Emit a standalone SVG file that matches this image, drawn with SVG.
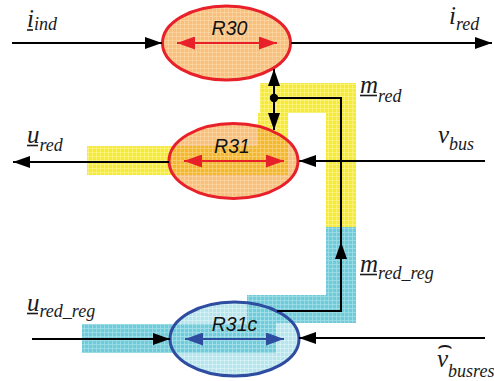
<svg xmlns="http://www.w3.org/2000/svg" width="494" height="381" viewBox="0 0 494 381">
<style>
.ln{fill:none;stroke:#000;stroke-width:2}
.lbl{font-family:"Liberation Serif",serif;font-style:italic;font-size:25px;fill:#1a1a1a}
.sub{font-size:18px}
.ul{stroke:#1a1a1a;stroke-width:1.6}
.rl{font-family:"Liberation Sans",Arial,sans-serif;font-style:italic;font-size:19.5px;fill:#111;text-anchor:middle}
.red{fill:none;stroke:#E8202A;stroke-width:2.2}
.blu{fill:none;stroke:#2E4DA0;stroke-width:2.2}
.hat{font-family:"DejaVu Sans",sans-serif;font-style:normal;font-size:24px}
</style>
<defs>
<pattern id="pOr" patternUnits="userSpaceOnUse" width="4" height="4">
<rect width="4" height="4" fill="#F5982A"/>
<path d="M0,0.4H4M0.4,0V4" stroke="#F8BE70" stroke-width="0.8"/>
</pattern>
<pattern id="pCy" patternUnits="userSpaceOnUse" width="4" height="4">
<rect width="4" height="4" fill="#6FCCDB"/>
<path d="M0,0.4H4M0.4,0V4" stroke="#B6E8EF" stroke-width="0.8"/>
</pattern>
<pattern id="pYe" patternUnits="userSpaceOnUse" width="4" height="4">
<rect width="4" height="4" fill="#F5EA35"/>
<path d="M0,0.4H4M0.4,0V4" stroke="#FBF48A" stroke-width="0.8"/>
</pattern>
<pattern id="pCb" patternUnits="userSpaceOnUse" width="4" height="4">
<rect width="4" height="4" fill="#6ECBD9"/>
<path d="M0,0.4H4M0.4,0V4" stroke="#A4E0E8" stroke-width="0.8"/>
</pattern>
<marker id="ab" markerUnits="userSpaceOnUse" markerWidth="18" markerHeight="12" refX="17" refY="6" orient="auto-start-reverse"><path d="M0,0L17,6L0,12z" fill="#000"/></marker>
<marker id="ar" markerUnits="userSpaceOnUse" markerWidth="19" markerHeight="13" refX="18" refY="6.5" orient="auto-start-reverse"><path d="M0,0L18,6.5L0,13z" fill="#E8202A"/></marker>
<marker id="au" markerUnits="userSpaceOnUse" markerWidth="19" markerHeight="13" refX="18" refY="6.5" orient="auto-start-reverse"><path d="M0,0L18,6.5L0,13z" fill="#2E4DA0"/></marker>
</defs>
<rect width="494" height="381" fill="#fff"/>
<g id="bands">
<polygon points="87,146 258,146 258,113 260,113 260,83 356,83 356,227 326,227 326,113 288,113 288,175 87,175" fill="url(#pYe)"/>
<polygon points="82,324 247,324 247,295 326,295 326,227 356,227 356,323 276,323 276,353 82,353" fill="url(#pCb)"/>
</g>
<g id="R30">
<ellipse cx="226.5" cy="43" rx="64" ry="37" fill="url(#pOr)" fill-opacity="0.62"/>
<ellipse cx="226.5" cy="43" rx="64" ry="37" fill="none" stroke="#E8202A" stroke-width="3"/>
<path class="red" d="M177,43H277" marker-start="url(#ar)" marker-end="url(#ar)"/>
<text class="rl" x="229.5" y="35">R30</text>
</g>
<g id="R31">
<ellipse cx="233.5" cy="161" rx="64.5" ry="37.5" fill="url(#pOr)" fill-opacity="0.62"/>
<ellipse cx="233.5" cy="161" rx="64.5" ry="37.5" fill="none" stroke="#E8202A" stroke-width="3"/>
<path class="red" d="M184,161H284" marker-start="url(#ar)" marker-end="url(#ar)"/>
<text class="rl" x="232" y="153">R31</text>
</g>
<g id="R31c">
<ellipse cx="234.5" cy="339" rx="64.5" ry="37" fill="url(#pCy)" fill-opacity="0.5"/>
<ellipse cx="234.5" cy="339" rx="64.5" ry="37" fill="none" stroke="#2E4DA0" stroke-width="3"/>
<path class="blu" d="M185,339H284" marker-start="url(#au)" marker-end="url(#au)"/>
<text class="rl" x="234.5" y="331">R31c</text>
</g>
<g id="connectors">
<path class="ln" d="M12,43H162" marker-end="url(#ab)"/>
<path class="ln" d="M291,43H492" marker-end="url(#ab)"/>
<path class="ln" d="M169,162H13" marker-end="url(#ab)"/>
<path class="ln" d="M485,161H299" marker-end="url(#ab)"/>
<path class="ln" d="M32,339H170" marker-end="url(#ab)"/>
<path class="ln" d="M485,338H299" marker-end="url(#ab)"/>
<path class="ln" d="M277,311H341V242" marker-end="url(#ab)"/>
<path class="ln" d="M341,244V98H274"/>
<path class="ln" d="M274,98V69" marker-end="url(#ab)"/>
<path class="ln" d="M274,98V130" marker-end="url(#ab)"/>
<circle cx="274" cy="98" r="4.2" fill="#000"/>
</g>
<g id="labels">
<text class="lbl" x="27" y="27">i<tspan class="sub" dy="3">ind</tspan></text>
<line class="ul" x1="27" y1="30" x2="33" y2="30"/>
<text class="lbl" x="449" y="24">i<tspan class="sub" dy="6">red</tspan></text>
<text class="lbl" x="27" y="143">u<tspan class="sub" dy="8">red</tspan></text>
<line class="ul" x1="27" y1="145.5" x2="38" y2="145.5"/>
<text class="lbl" x="438" y="143">v<tspan class="sub" dy="7">bus</tspan></text>
<text class="lbl" x="360" y="93">m<tspan class="sub" dy="9">red</tspan></text>
<line class="ul" x1="360" y1="95.5" x2="377" y2="95.5"/>
<text class="lbl" x="360" y="272">m<tspan class="sub" dy="7">red_reg</tspan></text>
<line class="ul" x1="360" y1="274.5" x2="377" y2="274.5"/>
<text class="lbl" x="27" y="311">u<tspan class="sub" dy="6">red_reg</tspan></text>
<line class="ul" x1="27" y1="313.5" x2="38" y2="313.5"/>
<text class="lbl" x="437" y="367">v<tspan class="sub" dy="10">busres</tspan><tspan class="hat" x="445" y="353" text-anchor="middle">&#x2322;</tspan></text>
</g>
</svg>
